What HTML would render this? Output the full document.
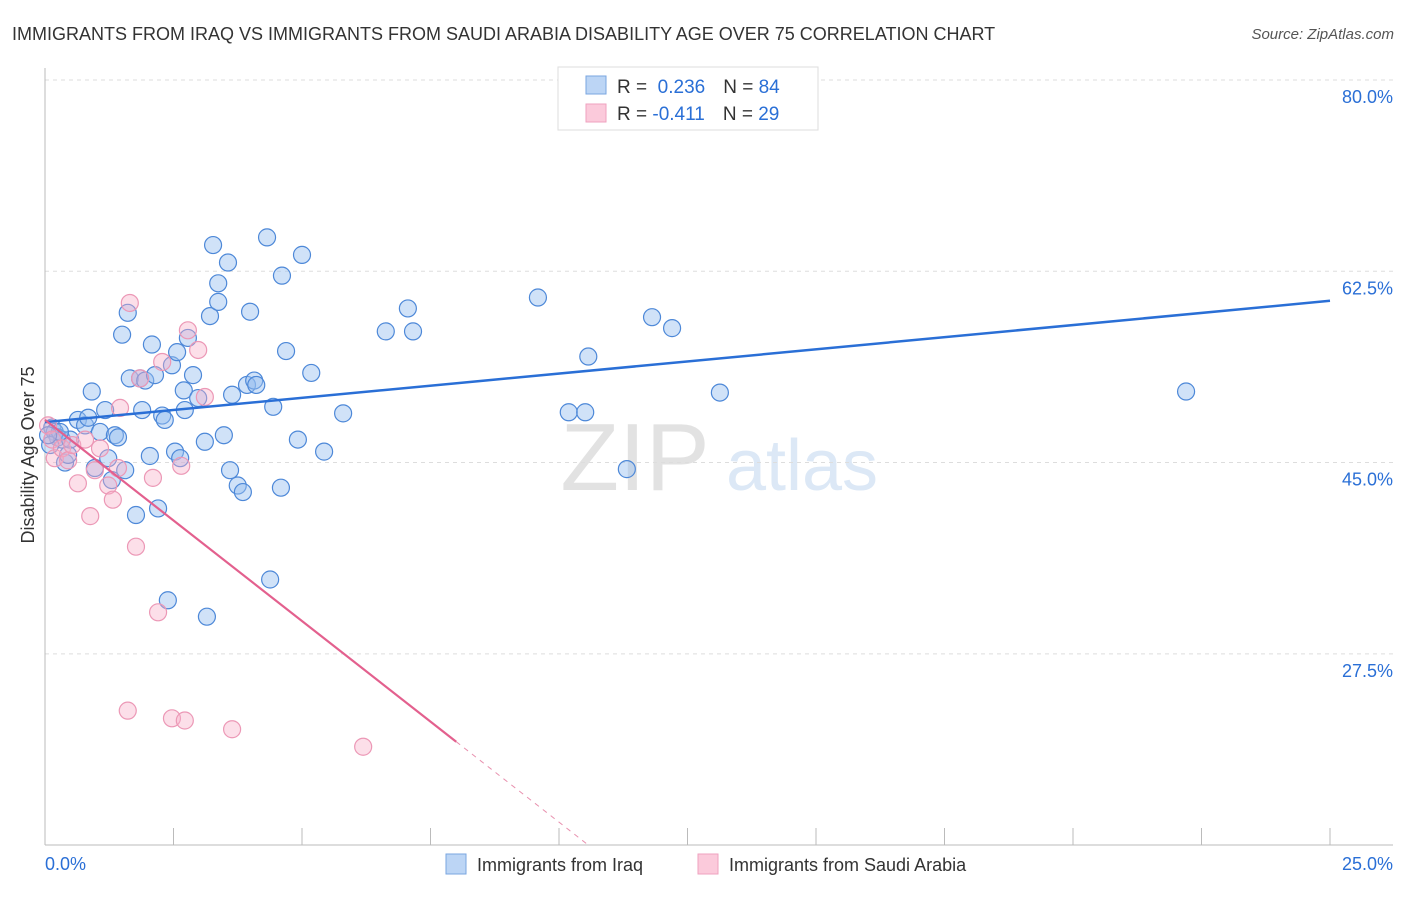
<!DOCTYPE html>
<html><head><meta charset="utf-8"><style>
body{margin:0;background:#fff;font-family:"Liberation Sans",sans-serif;}
svg text{font-family:"Liberation Sans",sans-serif;}
</style></head><body>
<svg id="chart" width="1406" height="892" xmlns="http://www.w3.org/2000/svg">
<text x="12" y="40" font-size="18" fill="#333">IMMIGRANTS FROM IRAQ VS IMMIGRANTS FROM SAUDI ARABIA DISABILITY AGE OVER 75 CORRELATION CHART</text>
<text x="1394" y="39" font-size="15" fill="#555" text-anchor="end" font-style="italic">Source: ZipAtlas.com</text>
<text x="635" y="490" font-size="96" fill="#e2e2e2" text-anchor="middle" font-family="Liberation Serif">ZIP</text>
<text x="802" y="490" font-size="72" fill="#dce8f6" text-anchor="middle">atlas</text>
<g id="grid"></g><g id="axes"></g><g id="pts"></g><g id="trend"></g>
<text transform="translate(34,455) rotate(-90)" font-size="18" fill="#333" text-anchor="middle">Disability Age Over 75</text>
<g>
<rect x="558" y="67" width="260" height="63" fill="#fff" stroke="#ddd"/>
<rect x="586" y="76" width="20" height="18" fill="#bcd5f5" stroke="#7aa6e0"/>
<rect x="586" y="104" width="20" height="18" fill="#fbcadb" stroke="#efa2bf"/>
<text x="617" y="93" font-size="19" fill="#333">R = <tspan fill="#2a6fd6">&#160;0.236</tspan><tspan dx="18">N = </tspan><tspan fill="#2a6fd6">84</tspan></text>
<text x="617" y="120" font-size="19" fill="#333">R = <tspan fill="#2a6fd6">-0.411</tspan><tspan dx="18">N = </tspan><tspan fill="#2a6fd6">29</tspan></text>
</g>
<g>
<rect x="446" y="854" width="20" height="20" fill="#bcd5f5" stroke="#7aa6e0"/>
<text x="477" y="871" font-size="18" fill="#333">Immigrants from Iraq</text>
<rect x="698" y="854" width="20" height="20" fill="#fbcadb" stroke="#efa2bf"/>
<text x="729" y="871" font-size="18" fill="#333">Immigrants from Saudi Arabia</text>
</g>
</svg>
<script>
const iraqX=[0.14,0.19,0.25,0.33,0.10,0.39,0.45,0.49,0.64,0.78,0.84,0.91,0.97,1.07,1.17,1.23,1.30,1.36,1.42,1.50,1.56,1.61,1.65,1.77,1.85,1.89,1.95,2.04,2.08,2.14,2.20,2.28,2.33,2.39,2.47,2.53,2.57,2.63,2.70,2.72,2.78,2.88,2.98,3.11,3.15,3.21,3.27,3.37,3.37,3.48,3.56,3.60,3.64,3.75,3.85,3.93,3.99,4.07,4.11,4.32,4.38,4.44,4.59,4.61,4.69,4.92,5.00,5.18,5.43,5.80,6.63,7.06,7.16,9.59,10.19,10.51,10.57,11.32,11.81,12.20,13.13,22.20,0.29,0.06];
const iraqY=[48.2,47.8,47.3,47.1,46.6,45.0,45.7,47.1,48.9,48.4,49.1,51.5,44.5,47.8,49.8,45.4,43.4,47.5,47.3,56.7,44.3,58.7,52.7,40.2,52.7,49.8,52.5,45.6,55.8,53.0,40.8,49.3,48.9,32.4,53.9,46.0,55.1,45.4,51.6,49.8,56.4,53.0,50.9,46.9,30.9,58.4,64.9,61.4,59.7,47.5,63.3,44.3,51.2,42.9,42.3,52.1,58.8,52.5,52.1,65.6,34.3,50.1,42.7,62.1,55.2,47.1,64.0,53.2,46.0,49.5,57.0,59.1,57.0,60.1,49.6,49.6,54.7,44.4,58.3,57.3,51.4,51.5,47.8,47.5];
const saudiX=[0.06,0.14,0.19,0.33,0.45,0.53,0.64,0.78,0.88,0.97,1.07,1.23,1.32,1.42,1.46,1.65,1.77,1.85,2.10,2.20,2.28,2.47,2.72,2.78,2.98,3.11,2.65,3.64,6.19,1.61];
const saudiY=[48.4,47.1,45.4,46.3,45.2,46.6,43.1,47.1,40.1,44.3,46.3,42.9,41.6,44.5,50.0,59.6,37.3,52.7,43.6,31.3,54.2,21.6,21.4,57.1,55.3,51.0,44.7,20.6,19.0,22.3];
const yTicks=[80,62.5,45,27.5];
const yTickLabels=["80.0%","62.5%","45.0%","27.5%"];
const xTickVals=[0,2.5,5,7.5,10,12.5,15,17.5,20,22.5,25];
const iraqTrend=[48.7,59.8];      // y at x=0 and x=25
const saudiTrend=[48.9,-3.68];    // intercept, slope
const saudiSolidEnd=8.0;
const X=v=>45+v*51.4, Y=v=>80+(80-v)*10.93;
const NS="http://www.w3.org/2000/svg";
function mk(p,t,a){const e=document.createElementNS(NS,t);for(const k in a)e.setAttribute(k,a[k]);p.appendChild(e);return e;}
const grid=document.getElementById('grid'),axes=document.getElementById('axes'),pts=document.getElementById('pts'),tr=document.getElementById('trend');
yTicks.forEach((v,i)=>{
 const l=mk(grid,'line',{x1:45,x2:1393,y1:Y(v),y2:Y(v),stroke:'#ddd','stroke-dasharray':'4,4'});
 
 
 const t=mk(grid,'text',{x:1393,y:Y(v)+23,'font-size':18,fill:'#2a6fd6','text-anchor':'end'});
 t.textContent=yTickLabels[i];
 
 
});
const ya=mk(axes,'line',{x1:45,x2:45,y1:68,y2:845,stroke:'#bbb'});


const xa=mk(axes,'line',{x1:45,x2:1393,y1:845,y2:845,stroke:'#bbb'});


xTickVals.forEach(v=>{const t=mk(axes,'line',{x1:X(v),x2:X(v),y1:828,y2:845,stroke:'#bbb'});
 
 });
[[0,'start','0.0%'],[25,'end','25.0%']].forEach(a=>{const t=mk(axes,'text',{x:a[0]==0?45:1393,y:870,'font-size':18,fill:'#2a6fd6','text-anchor':a[1]});t.textContent=a[2];
 
 });
iraqX.forEach((x,i)=>{const c=mk(pts,'circle',{cx:X(x),cy:Y(iraqY[i]),r:8.5,fill:'rgba(150,190,240,0.45)',stroke:'#4d88d8','stroke-width':1.2});
 
 });
saudiX.forEach((x,i)=>{const c=mk(pts,'circle',{cx:X(x),cy:Y(saudiY[i]),r:8.5,fill:'rgba(248,175,200,0.4)',stroke:'#ec98b6','stroke-width':1.2});
 
 });
const bl=mk(tr,'line',{x1:X(0),y1:Y(iraqTrend[0]),x2:X(25),y2:Y(iraqTrend[1]),stroke:'#2a6fd6','stroke-width':2.5});


const sy=x=>saudiTrend[0]+saudiTrend[1]*x, xEnd=(10-saudiTrend[0])/saudiTrend[1];
const pl=mk(tr,'line',{x1:X(0),y1:Y(sy(0)),x2:X(saudiSolidEnd),y2:Y(sy(saudiSolidEnd)),stroke:'#e3608e','stroke-width':2.2});


const pd=mk(tr,'line',{x1:X(saudiSolidEnd),y1:Y(sy(saudiSolidEnd)),x2:X(xEnd),y2:Y(10),stroke:'#e890ae','stroke-width':1,'stroke-dasharray':'5,5'});


</script>
</body></html>
